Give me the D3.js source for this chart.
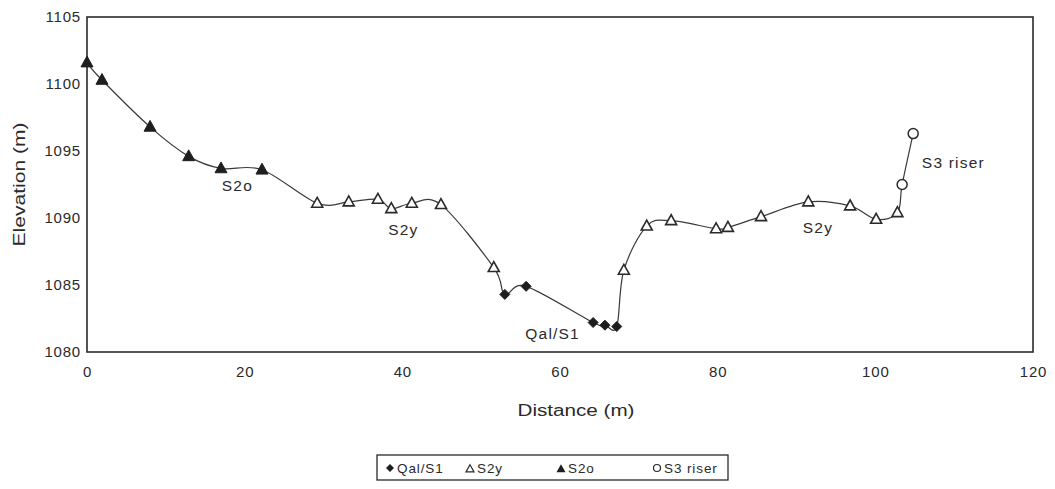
<!DOCTYPE html>
<html>
<head>
<meta charset="utf-8">
<script src="https://cdn.jsdelivr.net/npm/d3@7"></script>
<style>
  html, body { margin: 0; padding: 0; background: #fff; }
  svg { display: block; }
  text { font-family: "Liberation Sans", Arial, sans-serif; fill: #2a2a2a; }
</style>
</head>
<body>
<svg id="chart" width="1055" height="489"></svg>
<script>
// Survey profile: distance along the transect (m) and elevation (m) by surface unit
const qalDist = [53.0, 55.7, 64.2, 65.7, 67.2];
const qalElev = [1084.3, 1084.9, 1082.2, 1082.0, 1081.9];

const s2yDist = [29.2, 33.2, 36.9, 38.6, 41.2, 44.9, 51.6, 68.1, 71.0, 74.1, 79.8, 81.3, 85.5, 91.5, 96.8, 100.1, 102.8];
const s2yElev = [1091.1, 1091.2, 1091.4, 1090.7, 1091.1, 1091.0, 1086.3, 1086.1, 1089.4, 1089.8, 1089.2, 1089.3, 1090.1, 1091.2, 1090.9, 1089.9, 1090.4];

const s2oDist = [0, 1.9, 8.0, 12.9, 17.0, 22.2];
const s2oElev = [1101.6, 1100.3, 1096.8, 1094.6, 1093.7, 1093.6];

const s3Dist = [103.4, 104.8];
const s3Elev = [1092.5, 1096.3];

const xTicks = [0, 20, 40, 60, 80, 100, 120];
const yTicks = [1080, 1085, 1090, 1095, 1100, 1105];

const seriesNames = ["Qal/S1", "S2y", "S2o", "S3 riser"];

// Unit labels placed along the profile (distance, elevation of baseline)
const noteText = ["S2o", "S2y", "Qal/S1", "S2y", "S3 riser"];
const noteDist = [17.1, 38.2, 55.6, 90.8, 105.9];
const noteElev = [1092.0, 1088.7, 1081.0, 1088.9, 1093.7];

const svg = d3.select("#chart");
const margin = { left: 87, right: 22, top: 17, bottom: 137 };
const W = 1055, H = 489;

const x = d3.scaleLinear().domain([0, 120]).range([margin.left, W - margin.right]);
const y = d3.scaleLinear().domain([1080, 1105]).range([H - margin.bottom, margin.top]);

const ink = "#2a2a2a";

// Plot frame
svg.append("rect")
  .attr("x", x(0)).attr("y", y(1105))
  .attr("width", x(120) - x(0)).attr("height", y(1080) - y(1105))
  .attr("fill", "none").attr("stroke", ink).attr("stroke-width", 1.6);

// Axes (labels only, no tick marks)
const xAxis = d3.axisBottom(x).tickValues(xTicks).tickSize(0).tickPadding(14).tickFormat(d3.format("d"));
const yAxis = d3.axisLeft(y).tickValues(yTicks).tickSize(0).tickPadding(6).tickFormat(d3.format("d"));

const gx = svg.append("g").attr("transform", `translate(0,${y(1080)})`).call(xAxis);
const gy = svg.append("g").attr("transform", `translate(${x(0)},0)`).call(yAxis);
[gx, gy].forEach(g => {
  g.select(".domain").remove();
  g.selectAll("text")
    .attr("fill", "#333")
    .style("font-size", "15px")
    .style("letter-spacing", "0.8px")
    .style("font-family", "'Liberation Sans', Arial, sans-serif");
});

// Axis titles
svg.append("text")
  .attr("x", 576).attr("y", 416)
  .attr("text-anchor", "middle")
  .attr("textLength", 117).attr("lengthAdjust", "spacingAndGlyphs")
  .style("font-size", "16px")
  .text("Distance (m)");

svg.append("text")
  .attr("transform", `translate(25,${(y(1080) + y(1105)) / 2}) rotate(-90)`)
  .attr("text-anchor", "middle")
  .attr("textLength", 124).attr("lengthAdjust", "spacingAndGlyphs")
  .style("font-size", "16px")
  .text("Elevation (m)");

// Profile line through every surveyed point, ordered by distance
const allPts = []
  .concat(qalDist.map((d, i) => [d, qalElev[i]]))
  .concat(s2yDist.map((d, i) => [d, s2yElev[i]]))
  .concat(s2oDist.map((d, i) => [d, s2oElev[i]]))
  .concat(s3Dist.map((d, i) => [d, s3Elev[i]]))
  .sort((a, b) => a[0] - b[0]);

const line = d3.line()
  .x(d => x(d[0])).y(d => y(d[1]))
  .curve(d3.curveCatmullRom.alpha(0));

svg.append("path")
  .datum(allPts)
  .attr("d", line)
  .attr("fill", "none")
  .attr("stroke", "#3a3a3a")
  .attr("stroke-width", 1.2);

// Marker shapes
function triPath(s) {
  const h = s * 0.9;
  return `M0,${-h * 0.6}L${s / 2},${h * 0.4}L${-s / 2},${h * 0.4}Z`;
}
function diamondPath(s) {
  const r = s / 2;
  return `M0,${-r}L${r},0L0,${r}L${-r},0Z`;
}

function drawMarkers(dist, elev, kind, size) {
  const g = svg.append("g");
  dist.forEach((d, i) => {
    const px = x(d), py = y(elev[i]);
    if (kind === "diamond") {
      g.append("path").attr("d", diamondPath(size)).attr("transform", `translate(${px},${py})`)
        .attr("fill", "#1e1e1e").attr("stroke", "#1e1e1e").attr("stroke-width", 1);
    } else if (kind === "openTri") {
      g.append("path").attr("d", triPath(size)).attr("transform", `translate(${px},${py})`)
        .attr("fill", "#fff").attr("stroke", ink).attr("stroke-width", 1.6);
    } else if (kind === "fillTri") {
      g.append("path").attr("d", triPath(size)).attr("transform", `translate(${px},${py})`)
        .attr("fill", "#1e1e1e").attr("stroke", "#1e1e1e").attr("stroke-width", 1);
    } else {
      g.append("circle").attr("cx", px).attr("cy", py).attr("r", size / 2)
        .attr("fill", "#fff").attr("stroke", ink).attr("stroke-width", 1.5);
    }
  });
}

drawMarkers(s2yDist, s2yElev, "openTri", 11);
drawMarkers(s2oDist, s2oElev, "fillTri", 12);
drawMarkers(qalDist, qalElev, "diamond", 10);
drawMarkers(s3Dist, s3Elev, "circle", 10);

// Unit labels
noteText.forEach((t, i) => {
  svg.append("text")
    .attr("x", x(noteDist[i])).attr("y", y(noteElev[i]))
    .style("font-size", "15.5px")
    .style("letter-spacing", "1.2px")
    .text(t);
});

// Legend
const lg = svg.append("g");
lg.append("rect")
  .attr("x", 377).attr("y", 455).attr("width", 351).attr("height", 25)
  .attr("fill", "#fff").attr("stroke", ink).attr("stroke-width", 1.3);

const legX = [390, 470, 561, 657];
const legKinds = ["diamond", "openTri", "fillTri", "circle"];
legKinds.forEach((k, i) => {
  const px = legX[i], py = 468;
  if (k === "diamond") {
    lg.append("path").attr("d", diamondPath(8)).attr("transform", `translate(${px},${py})`).attr("fill", "#1e1e1e");
  } else if (k === "openTri") {
    lg.append("path").attr("d", triPath(8)).attr("transform", `translate(${px},${py + 1})`)
      .attr("fill", "#fff").attr("stroke", ink).attr("stroke-width", 1.2);
  } else if (k === "fillTri") {
    lg.append("path").attr("d", triPath(9)).attr("transform", `translate(${px},${py + 1})`).attr("fill", "#1e1e1e");
  } else {
    lg.append("circle").attr("cx", px).attr("cy", py).attr("r", 3.5)
      .attr("fill", "#fff").attr("stroke", ink).attr("stroke-width", 1.2);
  }
  lg.append("text")
    .attr("x", px + 7).attr("y", py + 5)
    .style("font-size", "13.5px")
    .style("letter-spacing", "0.9px")
    .text(seriesNames[i]);
});
</script>
</body>
</html>
